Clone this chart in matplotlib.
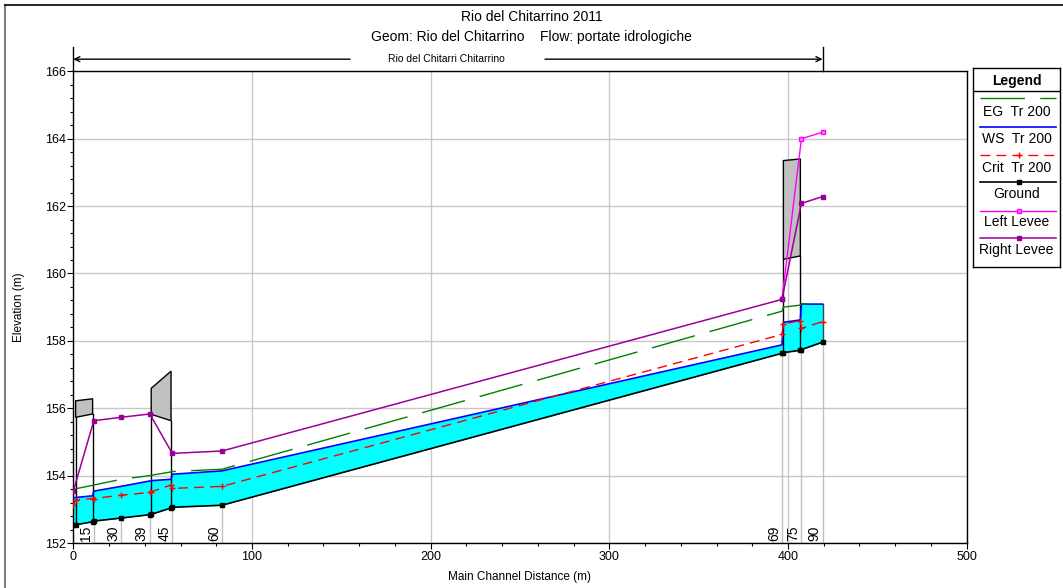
import matplotlib
matplotlib.use("Agg")
import matplotlib.pyplot as plt
import numpy as np
from matplotlib.lines import Line2D
from matplotlib.patches import Polygon
from matplotlib.ticker import MultipleLocator

plt.rcParams['font.family'] = ['Liberation Sans', 'DejaVu Sans']

# profile points: cross sections plus bridge faces (m along main channel)
dist = [0, 1.3, 10.8, 11.5, 26.7, 42.8, 43.6, 54.7, 55.4, 83.2, 396.6, 397.4, 406.9, 407.5, 419.3]
ground = [152.53, 152.54, 152.63, 152.65, 152.74, 152.84, 152.85, 153.04, 153.06, 153.12,
          157.63, 157.65, 157.72, 157.74, 157.96]
ws = [153.34, 153.35, 153.40, 153.54, 153.68, 153.84, 153.85, 153.89, 154.04, 154.14,
      157.88, 158.55, 158.62, 159.09, 159.09]
crit = [153.13, 153.27, 153.32, 153.32, 153.42, 153.50, 153.52, 153.72, 153.62, 153.68,
        158.19, 158.50, 158.60, 158.37, 158.57]
eg = [153.60, 153.61, 153.71, 153.72, 153.89, 154.00, 154.01, 154.11, 154.12, 154.19,
      158.88, 159.00, 159.06, 159.10, 159.10]

# levees only at cross sections
levee_dist = [0, 11.5, 26.7, 42.8, 55.4, 83.2, 396.6, 407.5, 419.3]
right_levee = [153.54, 155.63, 155.73, 155.83, 154.66, 154.73, 159.23, 162.08, 162.28]
left_dist = [396.6, 407.5, 419.3]
left_levee = [159.23, 164.00, 164.19]

# bridge decks: downstream / upstream face
bridge_dn = [1.3, 43.6, 397.4]
bridge_up = [10.8, 54.7, 406.9]
deck_top_dn = [156.22, 156.59, 163.35]
deck_top_up = [156.28, 157.10, 163.40]
deck_low_dn = [155.73, 155.82, 160.42]
deck_low_up = [155.83, 155.63, 160.52]

# river station labels
xs_names = ['15', '30', '39', '45', '60', '69', '75', '90']
xs_dist = [11.5, 26.7, 42.8, 55.4, 83.2, 396.6, 407.5, 419.3]

W, H = 1063, 588
fig = plt.figure(figsize=(W / 100, H / 100), dpi=100)
ax = fig.add_axes([73.3 / W, 45 / H, (966.7 - 73.3) / W, (543 - 71.3) / H])

ax.set_xlim(0, 500)
ax.set_ylim(152, 166)
ax.xaxis.set_major_locator(MultipleLocator(100))
ax.xaxis.set_minor_locator(MultipleLocator(20))
ax.yaxis.set_major_locator(MultipleLocator(2))
ax.yaxis.set_minor_locator(MultipleLocator(0.4))
ax.tick_params(which='major', direction='out', length=4.5, width=0.8, labelsize=9, pad=1)
ax.tick_params(which='minor', direction='out', length=2.2, width=0.8)
ax.grid(True, which='major', color='#c8c8c8', lw=1)
ax.set_axisbelow(True)
for s in ax.spines.values():
    s.set_linewidth(1.0)

ax.set_xlabel('Main Channel Distance (m)', fontsize=8.5, labelpad=6)
ax.set_ylabel('Elevation (m)', fontsize=8.5, labelpad=14)

g_xs = np.interp(xs_dist, dist, ground)
# station lines below ground + labels
for name, x, g in zip(xs_names, xs_dist, g_xs):
    ax.plot([x, x], [152, g], color='#c0c0c0', lw=1, zorder=1)
    ax.text(x - 0.6, 152.06, name, rotation=90, ha='right', va='bottom', fontsize=10, zorder=6)

# water between ground and WS
ax.fill_between(dist, ground, ws, color='#00ffff', lw=0, zorder=2)
ax.plot([dist[-1], dist[-1]], [ground[-1], ws[-1]], color='#205050', lw=1, zorder=3)

# bridges
for xd, xu, td, tu, ld, lu in zip(bridge_dn, bridge_up, deck_top_dn, deck_top_up, deck_low_dn, deck_low_up):
    deck = Polygon([[xd, ld], [xd, td], [xu, tu], [xu, lu]], closed=True,
                   facecolor='#c0c0c0', edgecolor='black', lw=1, zorder=4)
    ax.add_patch(deck)
    for x, low in ((xd, ld), (xu, lu)):
        ax.plot([x, x], [np.interp(x, dist, ground), low], color='black', lw=1, zorder=4)

ax.plot(dist, ws, color='#0000ff', lw=1.2, zorder=5)
ax.plot(dist, ground, color='black', lw=1.2, marker='s', ms=3.5, zorder=5)
ax.plot(dist, eg, color='#008000', lw=1, dashes=(32, 11), zorder=6)
ax.plot(dist, crit, color='#ff0000', lw=1, dashes=(7, 4.5), marker='+', ms=5, mew=1, zorder=6)
ax.plot(left_dist, left_levee, color='#ff00ff', lw=1, marker='s', ms=3.5,
        mfc='#ff80ff', mec='#ff00ff', zorder=7)
ax.plot(levee_dist, right_levee, color='#990099', lw=1.1, marker='s', ms=3.5, zorder=8)

# reach arrow above the plot
ya = 166.36
ax.annotate('', xy=(0, ya), xytext=(154.9, ya), annotation_clip=False,
            arrowprops=dict(arrowstyle='->', lw=1, color='black', shrinkA=0, shrinkB=0, mutation_scale=9))
ax.annotate('', xy=(dist[-1], ya), xytext=(264, ya), annotation_clip=False,
            arrowprops=dict(arrowstyle='->', lw=1, color='black', shrinkA=0, shrinkB=0, mutation_scale=9))
ax.plot([0, 0], [166, 166.72], color='black', lw=1, clip_on=False)
ax.plot([dist[-1], dist[-1]], [166, 166.72], color='black', lw=1, clip_on=False)
ax.text(209, ya, 'Rio del Chitarri Chitarrino', ha='center', va='center', fontsize=7.5)

fig.text(0.5, 1 - 17 / H, 'Rio del Chitarrino 2011', ha='center', va='center', fontsize=10)
fig.text(0.5, 1 - 37 / H, 'Geom: Rio del Chitarrino    Flow: portate idrologiche',
         ha='center', va='center', fontsize=10)

# window frame
fig.add_artist(Line2D([5 / W, 5 / W], [0, 1 - 5 / H], color='#808080', lw=1.5))
fig.add_artist(Line2D([5 / W, 1], [1 - 5 / H, 1 - 5 / H], color='black', lw=1.2))

# legend box
lx0, ly0, lx1, ly1 = 973.3, 68, 1060, 267
lax = fig.add_axes([lx0 / W, 1 - ly1 / H, (lx1 - lx0) / W, (ly1 - ly0) / H])
lax.set_xlim(0, lx1 - lx0)
lax.set_ylim(ly1 - ly0, 0)
lax.set_xticks([])
lax.set_yticks([])
for s in lax.spines.values():
    s.set_linewidth(1.0)
lw_ = lx1 - lx0
lax.text(lw_ / 2, 12.7, 'Legend', ha='center', va='center', fontsize=10, fontweight='bold')
lax.plot([0, lw_], [23, 23], color='black', lw=1)
xl = [6.7, 82.7]
xm = 45.7
lax.plot(xl, [30.3, 30.3], color='#008000', lw=1, dashes=(32, 11))
lax.text(lw_ / 2, 44.3, 'EG  Tr 200', ha='center', va='center', fontsize=10)
lax.plot(xl, [59.3, 59.3], color='#0000ff', lw=1.2)
lax.text(lw_ / 2, 71, 'WS  Tr 200', ha='center', va='center', fontsize=10)
lax.plot(xl, [87, 87], color='#ff0000', lw=1, dashes=(7, 4.5))
lax.plot([xm], [87], color='#ff0000', marker='+', ms=5, mew=1)
lax.text(lw_ / 2, 100, 'Crit  Tr 200', ha='center', va='center', fontsize=10)
lax.plot(xl, [114.3, 114.3], color='black', lw=1.2)
lax.plot([xm], [114.3], color='black', marker='s', ms=3.5)
lax.text(lw_ / 2, 126.3, 'Ground', ha='center', va='center', fontsize=10)
lax.plot(xl, [142.7, 142.7], color='#ff00ff', lw=1)
lax.plot([xm], [142.7], marker='s', ms=3.5, mfc='#ff80ff', mec='#ff00ff')
lax.text(lw_ / 2, 154.3, 'Left Levee', ha='center', va='center', fontsize=10)
lax.plot(xl, [170.3, 170.3], color='#990099', lw=1.1)
lax.plot([xm], [170.3], color='#990099', marker='s', ms=3.5)
lax.text(lw_ / 2, 182, 'Right Levee', ha='center', va='center', fontsize=10)

fig.savefig('out.png', dpi=100)
